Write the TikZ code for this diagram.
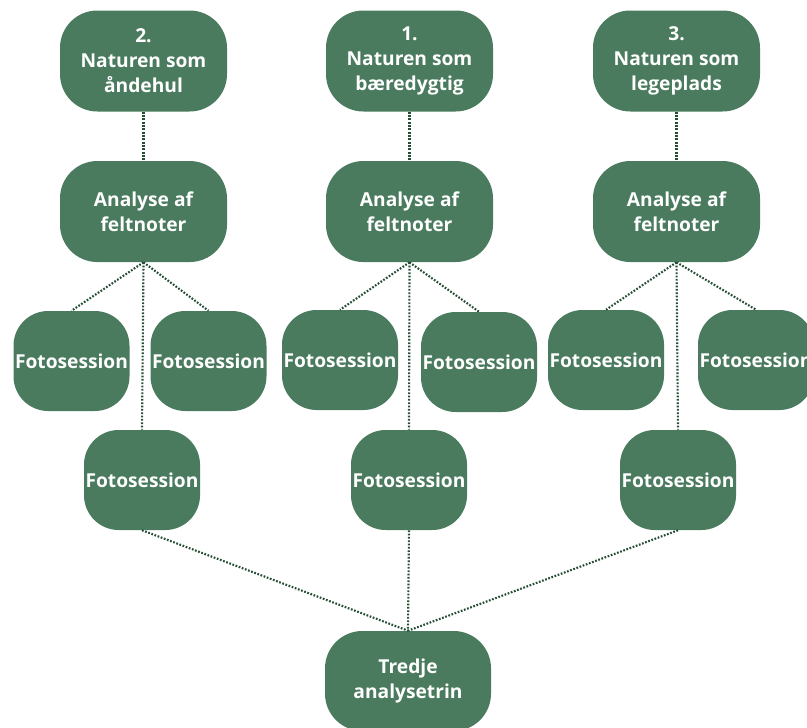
\documentclass[tikz,border=0pt]{standalone}
\usepackage{fontspec}
\setmainfont{Open Sans}
\usepackage{tikz}
\usetikzlibrary{
	positioning,
	calc}
\definecolor{boxgreen}{RGB}{74,123,94}
\definecolor{linegreen}{RGB}{38,78,52}
\tikzset{
	stage/.style={
		rectangle,
		rounded corners=28pt,
		fill=boxgreen,
		text=white,
		align=center,
		inner sep=0pt,
		font=\fontsize{14.4}{18.8}\selectfont\bfseries,
		minimum width=125.25pt,
		minimum height=75.75pt
	},
	photo/.style={
		stage,
		rounded corners=26pt,
		minimum width=87pt,
		minimum height=75pt
	},
	tie/.style={
		draw=linegreen,
		line width=1.6pt,
		dash pattern=on 1.3pt off 1.2pt
	},
}

\begin{document}
\begin{tikzpicture}[x=0.75pt, y=-0.75pt]
	\useasboundingbox (0,0) rectangle (807,728);
	\clip (0,0) rectangle (807,728);
	\node[stage] (t2) at (143.5,61) {2.\\Naturen som\\åndehul};
	\node[stage] (t1) at (409.5,61) {1.\\Naturen som\\bæredygtig};
	\node[stage] (t3) at (676.5,61) {3.\\Naturen som\\legeplads};
	\node[stage, below=36.75pt of t2] (a2) {Analyse af\\feltnoter};
	\node[stage, below=36.75pt of t1] (a1) {Analyse af\\feltnoter};
	\node[stage, below=36.75pt of t3] (a3) {Analyse af\\feltnoter};
	\node[photo] (f2l) at (71.5,361) {Fotosession};
	\node[photo] (f2r) at (208.5,361) {Fotosession};
	\node[photo] (f1l) at (340,360) {Fotosession};
	\node[photo] (f1r) at (479,362) {Fotosession};
	\node[photo] (f3l) at (606,360) {Fotosession};
	\node[photo] (f3r) at (756,360) {Fotosession};
	\node[photo] (f2m) at (142,480) {Fotosession};
	\node[photo] (f1m) at (409,480) {Fotosession};
	\node[photo] (f3m) at (678,480) {Fotosession};
	\node[stage, minimum width=124.5pt, minimum height=75pt] (tr) at (408,681) {Tredje\\analysetrin};
%
	\draw[tie] (t2.south) -- (a2.north);
	\draw[tie] (t1.south) -- (a1.north);
	\draw[tie] (t3.south) -- (a3.north);
	\draw[tie] (a2.south) -- (f2l.north);
	\draw[tie] (a2.south) -- (f2r.north);
	\draw[tie] (a2.south) -- (f2m.north);
	\draw[tie] (a1.south) -- (f1l.north);
	\draw[tie] (a1.south) -- (f1r.north);
	\draw[tie] (a1.south) -- (f1m.north);
	\draw[tie] (a3.south) -- (f3l.north);
	\draw[tie] (a3.south) -- (f3r.north);
	\draw[tie] (a3.south) -- (f3m.north);
%
	\draw[tie] (f2m.south) -- (tr.north);
	\draw[tie] (f1m.south) -- (tr.north);
	\draw[tie] (f3m.south) -- (tr.north);
\end{tikzpicture}
\end{document}
